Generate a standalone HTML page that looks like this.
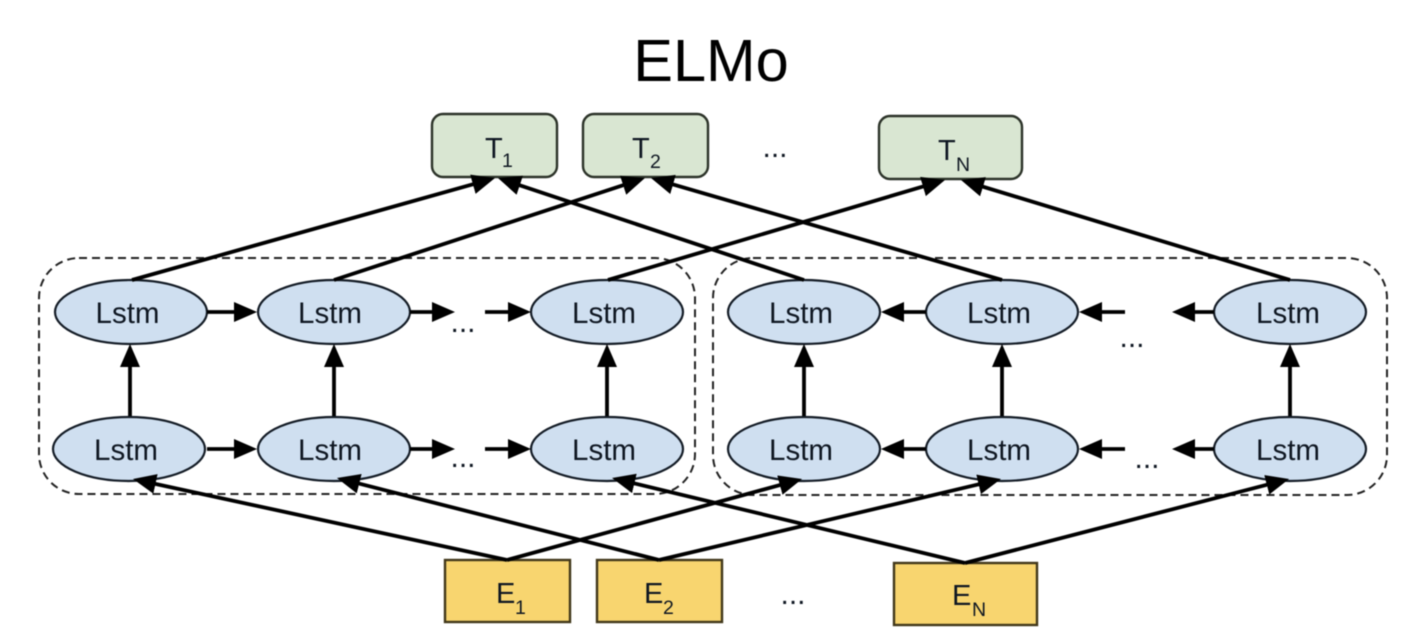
<!DOCTYPE html>
<html><head><meta charset="utf-8"><style>
html,body{margin:0;padding:0;background:#fff}
svg{display:block;filter:blur(0.45px)}
text{font-family:"Liberation Sans",sans-serif;fill:#0f1722}
</style></head><body>
<svg width="1428" height="640" viewBox="0 0 1428 640" xmlns="http://www.w3.org/2000/svg">
<defs>
<marker id="a" markerUnits="userSpaceOnUse" markerWidth="26" markerHeight="22" refX="18" refY="10" orient="auto"><path d="M0 0L23 10L0 20Z" fill="#000"/></marker>
</defs>
<rect width="1428" height="640" fill="#fff"/>
<text x="711" y="81" font-size="59.5" text-anchor="middle" style="fill:#000">ELMo</text>

<g fill="none" stroke="#222" stroke-width="2" stroke-dasharray="8 5">
<rect x="39" y="258" width="656" height="236" rx="40"/>
<rect x="713" y="258" width="674" height="237" rx="40"/>
</g>

<g fill="#d9e6d2" stroke="#2c3329" stroke-width="2.4">
<rect x="432" y="114" width="125" height="63" rx="11"/>
<rect x="583" y="114" width="125" height="63" rx="11"/>
<rect x="879" y="116" width="143" height="63" rx="11"/>
</g>
<g fill="#f8d56f" stroke="#41371a" stroke-width="2.4">
<rect x="445" y="560" width="125" height="62"/>
<rect x="597" y="560" width="125" height="62"/>
<rect x="894" y="563" width="143" height="62"/>
</g>

<g fill="#cfdff0" stroke="#141c26" stroke-width="2.2">
<ellipse cx="131" cy="312" rx="76" ry="32"/>
<ellipse cx="334" cy="312" rx="76" ry="32"/>
<ellipse cx="607" cy="312" rx="76" ry="32"/>
<ellipse cx="804" cy="312" rx="76" ry="32"/>
<ellipse cx="1002" cy="312" rx="76" ry="32"/>
<ellipse cx="1290" cy="312" rx="76" ry="32"/>
<ellipse cx="129" cy="449" rx="76" ry="32"/>
<ellipse cx="334" cy="449" rx="76" ry="32"/>
<ellipse cx="607" cy="449" rx="76" ry="32"/>
<ellipse cx="804" cy="449" rx="76" ry="32"/>
<ellipse cx="1002" cy="449" rx="76" ry="32"/>
<ellipse cx="1290" cy="449" rx="76" ry="32"/>
</g>

<g fill="none" stroke="#000" stroke-width="3.8" marker-end="url(#a)">
<path d="M132 280L490.2 179.4"/>
<path d="M334 280L640.2 179.6"/>
<path d="M608 280L940.2 181.4"/>
<path d="M804 280L502.7 179.6"/>
<path d="M1002 280L655.8 179.4"/>
<path d="M1290 280L965.8 181.5"/>

<path d="M207 312L252 312"/>
<path d="M410 312L450 312"/>
<path d="M485 312L526 312"/>
<path d="M207 449L252 449"/>
<path d="M410 449L450 449"/>
<path d="M485 449L526 449"/>

<path d="M926 312L886 312"/>
<path d="M1125 312L1084 312"/>
<path d="M1214 312L1177 312"/>
<path d="M926 449L886 449"/>
<path d="M1125 449L1084 449"/>
<path d="M1214 449L1177 449"/>

<path d="M130 416L130 349"/>
<path d="M334 416L334 349"/>
<path d="M607 416L607 349"/>
<path d="M804 416L804 349"/>
<path d="M1002 416L1002 349"/>
<path d="M1290 416L1290 349"/>

<path d="M507 560L137.9 480.1"/>
<path d="M659 560L341.8 479.2"/>
<path d="M965 563L616.9 479.2"/>
<path d="M507 560L797.2 480.3"/>
<path d="M659 560L996.1 480.2"/>
<path d="M965 563L1284.2 480.3"/>
</g>

<g font-size="29.500" text-anchor="middle">
<text x="127.500" y="323">Lstm</text>
<text x="330" y="323">Lstm</text>
<text x="604" y="323">Lstm</text>
<text x="801" y="323">Lstm</text>
<text x="999" y="323">Lstm</text>
<text x="1288" y="323">Lstm</text>
<text x="126" y="460">Lstm</text>
<text x="330" y="460">Lstm</text>
<text x="604" y="460">Lstm</text>
<text x="801" y="460">Lstm</text>
<text x="999" y="460">Lstm</text>
<text x="1288" y="460">Lstm</text>
</g>

<g font-size="29">
<text x="485" y="158">T</text><text x="502" y="167" font-size="19.500">1</text>
<text x="632" y="158">T</text><text x="650" y="168" font-size="19.500">2</text>
<text x="938" y="160">T</text><text x="956" y="171" font-size="19.500">N</text>
<text x="496" y="603">E</text><text x="515" y="614" font-size="19.500">1</text>
<text x="644" y="603">E</text><text x="663" y="614" font-size="19.500">2</text>
<text x="952" y="605">E</text><text x="972" y="616" font-size="19.500">N</text>
</g>

<g font-size="30" text-anchor="middle">
<text x="775" y="157">...</text>
<text x="793" y="604">...</text>
<text x="463" y="332">...</text>
<text x="463" y="467">...</text>
<text x="1132" y="347">...</text>
<text x="1147" y="468">...</text>
</g>
</svg>
</body></html>
